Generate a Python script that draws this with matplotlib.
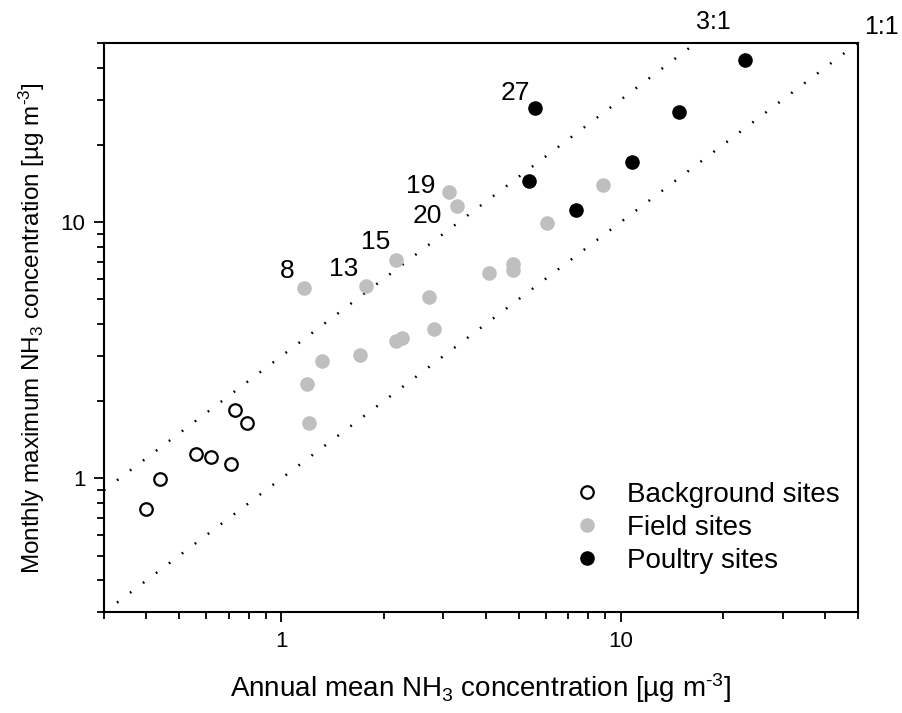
import matplotlib
matplotlib.use("Agg")
import matplotlib.pyplot as plt
import matplotlib.ticker as mticker

plt.rcParams["font.family"] = ["Liberation Sans", "DejaVu Sans"]
plt.rcParams["mathtext.fontset"] = "custom"
plt.rcParams["mathtext.rm"] = "Liberation Sans"
plt.rcParams["mathtext.it"] = "Liberation Sans:italic"

# 年平均 vs 月最大 (µg m-3)
bg_x = [0.400, 0.440, 0.559, 0.620, 0.712, 0.728, 0.792]
bg_y = [0.758, 0.991, 1.248, 1.211, 1.141, 1.85, 1.64]

field_x = [1.19, 1.32, 1.206, 1.70, 2.17, 2.26, 2.81, 2.72, 1.163, 1.78,
           2.18, 3.11, 3.28, 4.09, 4.82, 4.82, 6.04, 8.85]
field_y = [2.33, 2.86, 1.65, 3.02, 3.42, 3.52, 3.84, 5.09, 5.54, 5.62,
           7.10, 13.1, 11.5, 6.34, 6.87, 6.47, 9.88, 13.9]

poultry_x = [5.59, 5.37, 7.39, 10.8, 14.8, 23.3]
poultry_y = [27.9, 14.4, 11.1, 17.1, 26.9, 42.9]

# site labels: (id, x, y)
site_ids = ["8", "13", "15", "19", "20", "27"]
site_x = [1.163, 1.78, 2.18, 3.11, 3.28, 5.59]
site_y = [5.54, 5.62, 7.10, 13.1, 11.5, 27.9]
site_off = [(-11.7, 12), (-16.3, 12), (-14.9, 12.7), (-20.2, 4.1),
            (-20.9, -6.8), (-14.5, 10.6)]

lo, hi = 0.3, 50.0
ratios = [3, 1]
ratio_labels = ["3:1", "1:1"]
ratio_off = [(12.7, 15), (4.7, 11.5)]

fig = plt.figure(figsize=(9.03, 7.13), dpi=100)
ax = fig.add_axes([0.1152, 0.141, 0.835, 0.799])
ax.set_xscale("log")
ax.set_yscale("log")
ax.set_xlim(lo, hi)
ax.set_ylim(lo, hi)

# 比率線
for r, lab, off in zip(ratios, ratio_labels, ratio_off):
    x0, x1 = lo, hi / r
    ax.plot([x0, x1], [x0 * r, x1 * r], color="black", lw=1.8,
            linestyle=(0, (0.7, 5.8)), zorder=1)
    ax.annotate(lab, xy=(x1, x1 * r), xytext=off, textcoords="offset points",
                ha="center" if r == 3 else "left", va="center", fontsize=18,
                annotation_clip=False)

ax.plot(bg_x, bg_y, "o", ms=9, mfc="white", mec="black", mew=1.6,
        label="Background sites", zorder=3)
ax.plot(field_x, field_y, "o", ms=10.5, mfc="#bfbfbf", mec="#bfbfbf", mew=0,
        label="Field sites", zorder=3)
ax.plot(poultry_x, poultry_y, "o", ms=10.5, mfc="black", mec="black", mew=0,
        label="Poultry sites", zorder=3)

for sid, x, y, off in zip(site_ids, site_x, site_y, site_off):
    ax.annotate(sid, xy=(x, y), xytext=off, textcoords="offset points",
                ha="center", va="center", fontsize=19)

ax.xaxis.set_major_locator(mticker.FixedLocator([1, 10]))
ax.yaxis.set_major_locator(mticker.FixedLocator([1, 10]))
ax.xaxis.set_major_formatter(mticker.FixedFormatter(["1", "10"]))
ax.yaxis.set_major_formatter(mticker.FixedFormatter(["1", "10"]))
ax.xaxis.set_minor_formatter(mticker.NullFormatter())
ax.yaxis.set_minor_formatter(mticker.NullFormatter())
ax.tick_params(which="major", direction="out", length=7.5, width=1.3,
               labelsize=16, pad=6, top=False, right=False)
ax.tick_params(which="minor", direction="out", length=5, width=1.3,
               top=False, right=False)
for s in ax.spines.values():
    s.set_linewidth(1.5)

ax.set_xlabel(r"Annual mean NH$_3$ concentration [µg m$^{\text{-3}}$]",
              fontsize=20, labelpad=14)
ax.set_ylabel(r"Monthly maximum NH$_3$ concentration [µg m$^{\text{-3}}$]",
              fontsize=17.5, labelpad=10)

ax.legend(loc="lower right", bbox_to_anchor=(0.976, 0.068), frameon=False,
          fontsize=20, handlelength=1.0, handletextpad=0.94, labelspacing=0.25,
          borderpad=0, borderaxespad=0)

fig.savefig("out.png", dpi=100)
